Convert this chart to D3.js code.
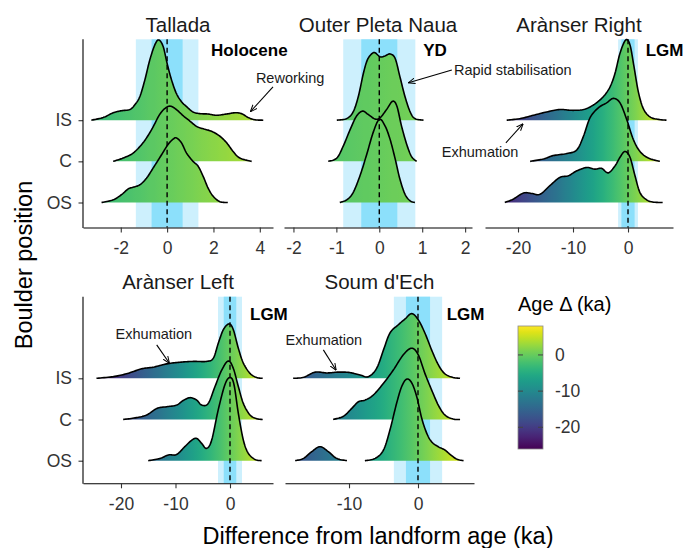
<!DOCTYPE html>
<html><head><meta charset="utf-8">
<script src="https://cdn.jsdelivr.net/npm/d3@7"></script>
<style>
body{margin:0;background:#fff}
svg{display:block}
text{font-family:"Liberation Sans",Arial,Helvetica,sans-serif}
</style>
</head><body>
<svg id="chart" width="687" height="548"></svg>
<script>
// ---------------- DATA ----------------
const panelNames = ["Tallada", "Outer Pleta Naua", "Arànser Right", "Arànser Left", "Soum d'Ech"];
const positions = ["OS", "C", "IS"];
const xDomains = [[-3.63, 4.57], [-2.22, 2.16], [-26.0, 8.18], [-26.97, 7.89], [-19.28, 8.12]];
const xTickValues = [[-2, 0, 2, 4], [-2, -1, 0, 1, 2], [-20, -10, 0], [-20, -10, 0], [-10, 0]];
const sigma1 = [0.67, 0.42, 1.2, 1.15, 1.75];   // landform age 1σ
const sigma2 = [1.35, 0.84, 1.8, 2.2, 3.5];     // landform age 2σ
const fillDomain = [-26, 8];
const legendTicks = [0, -10, -20];

// ridge densities: [difference (ka), scaled density height (row units)]
const talladaIS = [[-3.27,0],[-2.76,0.065],[-2.33,0.18],[-1.97,0.23],[-1.61,0.26],[-1.40,0.37],[-1.18,0.57],[-0.96,0.98],[-0.75,1.46],[-0.53,1.83],[-0.36,1.95],[-0.17,1.79],[0.0,1.38],[0.19,0.98],[0.40,0.65],[0.62,0.45],[0.84,0.33],[1.12,0.20],[1.41,0.16],[1.77,0.15],[2.13,0.12],[2.57,0.15],[2.92,0.18],[3.21,0.16],[3.50,0.065],[3.79,0.01],[4.15,0]];
const talladaC = [[-2.33,0],[-1.90,0.08],[-1.47,0.20],[-1.04,0.45],[-0.67,0.77],[-0.32,1.14],[-0.06,1.30],[0.15,1.34],[0.40,1.26],[0.69,1.11],[0.98,0.98],[1.27,0.85],[1.56,0.79],[1.92,0.73],[2.28,0.61],[2.57,0.45],[2.85,0.24],[3.14,0.08],[3.65,0]];
const talladaOS = [[-2.83,0],[-2.33,0.065],[-1.97,0.19],[-1.68,0.33],[-1.47,0.37],[-1.18,0.43],[-0.89,0.59],[-0.60,0.84],[-0.24,1.16],[0.04,1.41],[0.26,1.54],[0.40,1.57],[0.62,1.45],[0.84,1.20],[1.12,1.0],[1.34,0.88],[1.56,0.63],[1.77,0.35],[1.99,0.15],[2.28,0.02],[2.62,0]];

const pletaIS = [[-0.99,0],[-0.76,0.04],[-0.61,0.20],[-0.49,0.57],[-0.37,1.14],[-0.28,1.46],[-0.18,1.61],[-0.10,1.64],[0.02,1.54],[0.13,1.56],[0.25,1.61],[0.37,1.50],[0.48,1.06],[0.60,0.57],[0.72,0.20],[0.83,0.04],[1.03,0]];
const pletaC = [[-1.19,0],[-0.99,0.08],[-0.84,0.37],[-0.68,0.77],[-0.53,1.10],[-0.39,1.22],[-0.26,1.14],[-0.10,1.03],[0.02,1.06],[0.17,1.26],[0.31,1.46],[0.41,1.34],[0.52,0.85],[0.64,0.41],[0.75,0.12],[0.87,0]];
const pletaOS = [[-0.92,0],[-0.76,0.065],[-0.61,0.24],[-0.45,0.65],[-0.29,1.18],[-0.14,1.71],[0.0,2.02],[0.13,1.87],[0.25,1.54],[0.37,1.06],[0.48,0.57],[0.60,0.20],[0.72,0.04],[0.83,0]];

const rightIS = [[-22.06,0],[-19.6,0.04],[-17.2,0.12],[-14.8,0.20],[-12.4,0.26],[-10.2,0.24],[-8.1,0.26],[-6.3,0.37],[-4.5,0.57],[-3.27,0.81],[-2.36,1.14],[-1.45,1.63],[-0.42,1.95],[0.36,1.83],[1.09,1.30],[1.88,0.69],[2.79,0.28],[4.0,0.08],[5.5,0.02],[7.0,0]];
const rightC = [[-17.8,0],[-15.4,0.057],[-13.6,0.14],[-11.1,0.19],[-9.3,0.28],[-8.1,0.61],[-6.9,1.06],[-5.4,1.30],[-3.9,1.42],[-2.67,1.53],[-1.45,1.42],[-0.24,1.02],[0.97,0.53],[2.18,0.24],[3.7,0.08],[5.8,0]];
const rightOS = [[-22.4,0],[-20.9,0.08],[-19.0,0.23],[-17.5,0.22],[-16.0,0.20],[-14.2,0.41],[-12.4,0.61],[-10.85,0.65],[-9.3,0.77],[-7.5,0.85],[-6.0,0.81],[-4.8,0.83],[-3.6,0.72],[-2.36,0.89],[-1.45,1.10],[-0.55,1.24],[0.36,1.10],[1.27,0.65],[2.18,0.24],[3.4,0.065],[4.6,0.01],[6.3,0]];

const leftIS = [[-24.5,0],[-21.4,0.04],[-19.0,0.11],[-17.4,0.18],[-15.9,0.24],[-14.1,0.27],[-11.6,0.35],[-9.2,0.39],[-6.7,0.41],[-4.3,0.41],[-3.06,0.49],[-2.15,0.85],[-1.22,1.18],[-0.18,1.32],[0.61,1.18],[1.53,0.73],[2.45,0.37],[3.67,0.12],[4.9,0.02],[6.0,0]];
const leftC = [[-19.6,0],[-17.4,0.04],[-15.3,0.11],[-13.4,0.27],[-11.6,0.31],[-9.8,0.35],[-8.6,0.46],[-7.3,0.53],[-6.1,0.47],[-5.2,0.35],[-4.0,0.39],[-2.75,0.80],[-1.52,1.20],[-0.31,1.42],[0.61,1.24],[1.53,0.80],[2.45,0.39],[3.67,0.11],[4.9,0.02],[6.0,0]];
const leftOS = [[-15.0,0],[-12.8,0.057],[-11.3,0.14],[-9.8,0.15],[-8.3,0.34],[-7.0,0.50],[-6.1,0.54],[-5.2,0.42],[-4.3,0.30],[-3.36,0.50],[-2.15,1.24],[-0.92,1.85],[0.0,2.02],[0.73,1.85],[1.53,1.15],[2.45,0.50],[3.36,0.18],[4.6,0.03],[5.8,0]];

const soumIS = [[-18.1,0],[-16.6,0.024],[-14.9,0.15],[-13.2,0.13],[-11.55,0.15],[-9.9,0.14],[-8.4,0.08],[-7.2,0.04],[-6.0,0.24],[-5.0,0.69],[-4.06,1.10],[-2.85,1.30],[-1.88,1.44],[-0.91,1.57],[0.04,1.42],[1.0,1.10],[1.97,0.69],[2.94,0.33],[3.9,0.11],[5.1,0.02],[6.1,0]];
const soumC = [[-12.3,0],[-10.8,0.08],[-9.6,0.27],[-8.65,0.43],[-7.7,0.47],[-6.5,0.59],[-5.0,0.88],[-3.58,1.20],[-2.13,1.57],[-0.91,1.73],[0.04,1.57],[1.0,1.12],[1.97,0.72],[2.94,0.35],[3.9,0.11],[5.1,0.01],[6.1,0]];
const soumOSlow = [[-17.8,0],[-16.6,0.057],[-15.4,0.22],[-14.2,0.34],[-13.0,0.22],[-11.8,0.057],[-10.3,0]];
const soumOS = [[-7.7,0],[-6.2,0.057],[-5.0,0.26],[-4.06,0.75],[-3.09,1.40],[-2.36,1.80],[-1.64,1.98],[-0.91,1.89],[-0.19,1.56],[0.54,1.03],[1.26,0.67],[1.97,0.46],[2.94,0.34],[3.9,0.26],[4.6,0.16],[5.6,0.04],[6.6,0]];

const ridges = [
  {panel: 0, pos: "IS", values: talladaIS}, {panel: 0, pos: "C", values: talladaC}, {panel: 0, pos: "OS", values: talladaOS},
  {panel: 1, pos: "IS", values: pletaIS}, {panel: 1, pos: "C", values: pletaC}, {panel: 1, pos: "OS", values: pletaOS},
  {panel: 2, pos: "IS", values: rightIS}, {panel: 2, pos: "C", values: rightC}, {panel: 2, pos: "OS", values: rightOS},
  {panel: 3, pos: "IS", values: leftIS}, {panel: 3, pos: "C", values: leftC}, {panel: 3, pos: "OS", values: leftOS},
  {panel: 4, pos: "IS", values: soumIS}, {panel: 4, pos: "C", values: soumC}, {panel: 4, pos: "OS", values: soumOSlow}, {panel: 4, pos: "OS", values: soumOS}
];

// landform labels (data coordinates: x in ka, y in row units OS=1..IS=3)
const periodLabels = [
  {panel: 0, text: "Holocene", x: 3.55, y: 4.70},
  {panel: 1, text: "YD", x: 1.30, y: 4.70},
  {panel: 2, text: "LGM", x: 6.65, y: 4.70},
  {panel: 3, text: "LGM", x: 7.14, y: 4.56},
  {panel: 4, text: "LGM", x: 6.9, y: 4.54}
];
const noteLabels = [
  {panel: 0, text: "Reworking", x: 5.31, y: 4.03, ax: 4.57, ay: 3.81, bx: 3.60, by: 3.21},
  {panel: 1, text: "Rapid stabilisation", x: 3.11, y: 4.23, ax: 1.69, ay: 4.22, bx: 0.68, by: 3.91},
  {panel: 2, text: "Exhumation", x: -26.9, y: 2.23, ax: -22.2, ay: 2.45, bx: -19.1, by: 2.91},
  {panel: 3, text: "Exhumation", x: -13.96, y: 4.08, ax: -13.45, ay: 3.81, bx: -11.14, by: 3.37},
  {panel: 4, text: "Exhumation", x: -13.64, y: 3.94, ax: -13.72, ay: 3.69, bx: -11.88, by: 3.20}
];

// ---------------- LAYOUT ----------------
const svg = d3.select("#chart");
const FONT = '"Liberation Sans",Arial,Helvetica,sans-serif';
const rowsLayout = [
  {top: 39.3, bottom: 227.5, os: 202.5, is: 120.2, title: 31.7},
  {top: 296.7, bottom: 483.3, os: 460.7, is: 378.3, title: 289}
];
const panelLayout = [
  {x0: 83, x1: 273, row: 0, yaxis: true},
  {x0: 284, x1: 472, row: 0, yaxis: false},
  {x0: 485, x1: 673, row: 0, yaxis: false},
  {x0: 83, x1: 273, row: 1, yaxis: true},
  {x0: 285, x1: 474, row: 1, yaxis: false}
];
const lightBand = "#cdf0fd";
const darkBand = "#8ce0fb";
const fillNorm = d3.scaleLinear().domain(fillDomain).range([0, 1]).clamp(true);

// Catmull-Rom resampling of the read points for a smooth density outline
function smoothPts(pts, k) {
  const n = pts.length, out = [];
  for (let i = 0; i < n - 1; i++) {
    const p0 = pts[Math.max(i - 1, 0)], p1 = pts[i], p2 = pts[i + 1], p3 = pts[Math.min(i + 2, n - 1)];
    for (let s = 0; s < k; s++) {
      const t = s / k, t2 = t * t, t3 = t2 * t;
      const f = j => 0.5 * (2 * p1[j] + (-p0[j] + p2[j]) * t + (2 * p0[j] - 5 * p1[j] + 4 * p2[j] - p3[j]) * t2 + (-p0[j] + 3 * p1[j] - 3 * p2[j] + p3[j]) * t3);
      out.push([f(0), Math.max(0, f(1))]);
    }
  }
  out.push(pts[n - 1]);
  return out;
}

const defs = svg.append("defs");
defs.append("marker").attr("id", "arrow")
  .attr("viewBox", "0 0 10 10").attr("refX", 9.5).attr("refY", 5)
  .attr("markerWidth", 7).attr("markerHeight", 7).attr("markerUnits", "userSpaceOnUse")
  .attr("orient", "auto")
  .append("path").attr("d", "M0,1 L10,5 L0,9").attr("fill", "none")
  .attr("stroke", "#000").attr("stroke-width", 1.4);

const scales = panelLayout.map((L, i) => {
  const R = rowsLayout[L.row];
  return {
    x: d3.scaleLinear().domain(xDomains[i]).range([L.x0, L.x1]),
    y: d3.scaleLinear().domain([1, 3]).range([R.os, R.is]),
    R, L
  };
});

panelLayout.forEach((L, i) => {
  const {x, y, R} = scales[i];
  const g = svg.append("g");

  const grad = defs.append("linearGradient").attr("id", "grad" + i)
    .attr("gradientUnits", "userSpaceOnUse")
    .attr("x1", L.x0).attr("x2", L.x1).attr("y1", 0).attr("y2", 0);
  const n = 40;
  d3.range(n + 1).forEach(k => {
    const v = xDomains[i][0] + (xDomains[i][1] - xDomains[i][0]) * k / n;
    grad.append("stop").attr("offset", (k / n * 100) + "%")
      .attr("stop-color", d3.interpolateViridis(fillNorm(v)));
  });

  g.append("rect").attr("x", x(-sigma2[i])).attr("width", x(sigma2[i]) - x(-sigma2[i]))
    .attr("y", R.top).attr("height", R.bottom - R.top).attr("fill", lightBand);
  g.append("rect").attr("x", x(-sigma1[i])).attr("width", x(sigma1[i]) - x(-sigma1[i]))
    .attr("y", R.top).attr("height", R.bottom - R.top).attr("fill", darkBand);

  ["IS", "C", "OS"].forEach(pos => {
    ridges.filter(r => r.panel === i && r.pos === pos).forEach(r => {
      const base = positions.indexOf(pos) + 1;
      const pts = smoothPts(r.values, 10);
      const area = d3.area().x(d => x(d[0])).y0(y(base)).y1(d => y(base + d[1]));
      const line = d3.line().x(d => x(d[0])).y(d => y(base + d[1]));
      g.append("path").attr("d", area(pts)).attr("fill", `url(#grad${i})`);
      g.append("path").attr("d", line(pts)).attr("fill", "none")
        .attr("stroke", "#000").attr("stroke-width", 1.6).attr("stroke-linejoin", "round");
    });
  });

  g.append("line").attr("x1", x(0)).attr("x2", x(0)).attr("y1", R.top).attr("y2", R.bottom)
    .attr("stroke", "#000").attr("stroke-width", 1.4).attr("stroke-dasharray", "5,3.5");

  const xa = g.append("g").attr("transform", `translate(0,${R.bottom})`)
    .call(d3.axisBottom(x).tickValues(xTickValues[i]).tickFormat(d => String(d))
      .tickSize(5).tickSizeOuter(0).tickPadding(9));
  xa.attr("font-family", FONT).attr("font-size", 17.5);
  xa.select(".domain").attr("stroke", "#000").attr("stroke-width", 1.1);
  xa.selectAll(".tick line").attr("stroke", "#333").attr("stroke-width", 1.1);
  xa.selectAll(".tick text").attr("fill", "#333");

  if (L.yaxis) {
    const ya = g.append("g").attr("transform", `translate(${L.x0},0)`)
      .call(d3.axisLeft(y).tickValues([1, 2, 3]).tickFormat(d => positions[d - 1])
        .tickSize(4.5).tickSizeOuter(0).tickPadding(6.5));
    ya.attr("font-family", FONT).attr("font-size", 17.5);
    ya.select(".domain").remove();
    ya.selectAll(".tick line").attr("stroke", "#333").attr("stroke-width", 1.1);
    ya.selectAll(".tick text").attr("fill", "#333");
    g.append("line").attr("x1", L.x0).attr("x2", L.x0).attr("y1", R.top).attr("y2", R.bottom + 0.5)
      .attr("stroke", "#000").attr("stroke-width", 1.1);
  }

  svg.append("text").attr("x", (L.x0 + L.x1) / 2).attr("y", R.title)
    .attr("text-anchor", "middle").attr("font-size", 20.5).attr("fill", "#1a1a1a")
    .text(panelNames[i]);
});

periodLabels.forEach(p => {
  const {x, y} = scales[p.panel];
  svg.append("text").attr("x", x(p.x)).attr("y", y(p.y))
    .attr("text-anchor", "middle").attr("dominant-baseline", "central")
    .attr("font-size", 17).attr("font-weight", "bold").attr("fill", "#000").text(p.text);
});

noteLabels.forEach(p => {
  const {x, y} = scales[p.panel];
  svg.append("text").attr("x", x(p.x)).attr("y", y(p.y))
    .attr("text-anchor", "middle").attr("dominant-baseline", "central")
    .attr("font-size", 14.5).attr("fill", "#1a1a1a").text(p.text);
  svg.append("line").attr("x1", x(p.ax)).attr("y1", y(p.ay)).attr("x2", x(p.bx)).attr("y2", y(p.by))
    .attr("stroke", "#000").attr("stroke-width", 1.1).attr("marker-end", "url(#arrow)");
});

svg.append("text").attr("x", 378).attr("y", 544).attr("text-anchor", "middle")
  .attr("font-size", 23.5).attr("fill", "#000").text("Difference from landform age (ka)");
svg.append("text").attr("transform", "translate(32,265) rotate(-90)").attr("text-anchor", "middle")
  .attr("font-size", 23.5).attr("fill", "#000").text("Boulder position");

const lg = svg.append("g");
lg.append("text").attr("x", 518).attr("y", 311).attr("font-size", 20).attr("fill", "#000").text("Age Δ (ka)");
const ly = d3.scaleLinear().domain(fillDomain).range([449, 326]);
const lgrad = defs.append("linearGradient").attr("id", "legendGrad")
  .attr("x1", 0).attr("y1", 1).attr("x2", 0).attr("y2", 0);
d3.range(21).forEach(k => {
  lgrad.append("stop").attr("offset", (k * 5) + "%").attr("stop-color", d3.interpolateViridis(k / 20));
});
lg.append("rect").attr("x", 518).attr("y", ly(fillDomain[1])).attr("width", 25)
  .attr("height", ly(fillDomain[0]) - ly(fillDomain[1]))
  .attr("fill", "url(#legendGrad)").attr("stroke", "#8a8a8a").attr("stroke-width", 0.8);
legendTicks.forEach(t => {
  lg.append("line").attr("x1", 518).attr("x2", 523).attr("y1", ly(t)).attr("y2", ly(t))
    .attr("stroke", "#444").attr("stroke-width", 1);
  lg.append("line").attr("x1", 538).attr("x2", 543).attr("y1", ly(t)).attr("y2", ly(t))
    .attr("stroke", "#444").attr("stroke-width", 1);
  lg.append("text").attr("x", 555).attr("y", ly(t)).attr("dominant-baseline", "central")
    .attr("font-size", 17.5).attr("fill", "#333").text(String(t));
});
</script>
</body></html>
